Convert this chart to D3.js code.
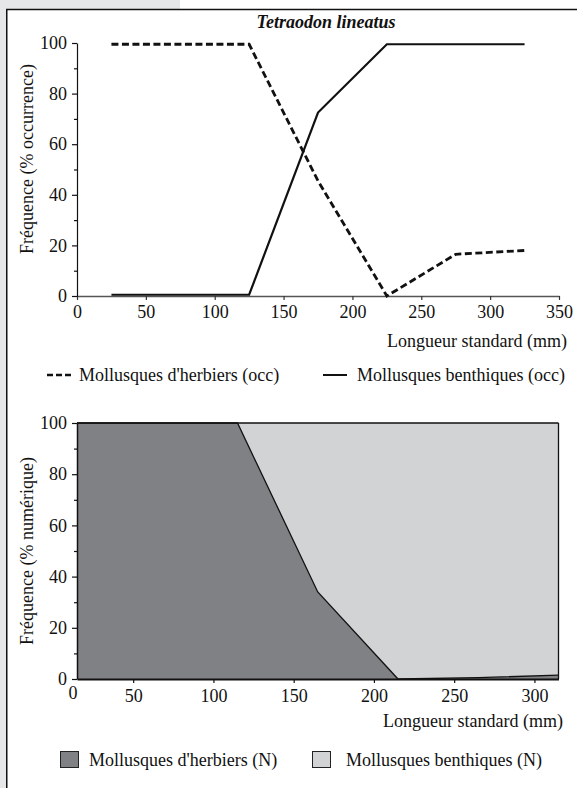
<!DOCTYPE html>
<html><head><meta charset="utf-8">
<script src="https://cdn.jsdelivr.net/npm/d3@7"></script>
<style>
html,body{margin:0;padding:0;background:#fff;}
svg{display:block;}
</style></head><body>
<script>
// ---- Data (top chart: occurrence) ----
const topTitle = "Tetraodon lineatus";
const topLengths = [25, 125, 175, 225, 275, 325];
const herbiersOcc = [99.5, 99.5, 45.5, 0, 16.5, 18];
const benthiquesOcc = [0.5, 0.5, 72.5, 99.5, 99.5, 99.5];
const topXTicks = [0, 50, 100, 150, 200, 250, 300, 350];
const yTicks = [0, 20, 40, 60, 80, 100];
const yMinorTicks = [10, 30, 50, 70, 90];

// ---- Data (bottom chart: numeric %) ----
const botLengths = [15, 65, 115, 165, 215, 265, 315];
const herbiersN = [100, 100, 100, 34, 0, 0.5, 1.5];
const benthiquesN = herbiersN.map(v => 100 - v);
const botXTicks = [50, 100, 150, 200, 250, 300];

const W = 577, H = 788;
const FONT = "'Liberation Serif', 'DejaVu Serif', serif";
const FS = 18;
const svg = d3.select("body").append("svg").attr("width", W).attr("height", H)
  .style("font-family", FONT);

function styleText(sel) {
  sel.style("font-family", FONT).style("font-size", FS + "px").attr("fill", "#111");
  return sel;
}

// background frame
svg.append("rect").attr("x",0).attr("y",0).attr("width",180).attr("height",9).attr("fill","#e6e7e9");
svg.append("rect").attr("x",0).attr("y",0).attr("width",6).attr("height",H).attr("fill","#e6e7e9");
svg.append("path").attr("d",`M6.75,${H} V9.5 H${W}`).attr("fill","none").attr("stroke","#111").attr("stroke-width",1.5);

// ================= TOP CHART =================
const xT = d3.scaleLinear().domain([0,350]).range([77,559]);
const yT = d3.scaleLinear().domain([0,100]).range([296,43]);
const gT = svg.append("g");

styleText(gT.append("text").attr("x",326).attr("y",28).attr("text-anchor","middle")
  .style("font-weight","bold").style("font-style","italic").text(topTitle));

// x axis (gray)
const xAxT = gT.append("g").attr("transform",`translate(0,${yT(0)})`)
  .call(d3.axisBottom(xT).tickValues(topXTicks).tickSize(4).tickPadding(5).tickSizeOuter(0));
xAxT.select(".domain").attr("stroke","#555").attr("stroke-width",1.5);
xAxT.selectAll(".tick line").attr("stroke","#333").attr("stroke-width",1.2);
styleText(xAxT.selectAll("text"));

// y axis
const yAxT = gT.append("g").attr("transform",`translate(${xT(0)},0)`)
  .call(d3.axisLeft(yT).tickValues(yTicks).tickSize(5).tickPadding(5).tickSizeOuter(0));
yAxT.select(".domain").attr("stroke","#111").attr("stroke-width",1.2);
yAxT.selectAll(".tick line").attr("stroke","#111").attr("stroke-width",1.2);
styleText(yAxT.selectAll("text"));
const yMinT = gT.append("g").attr("transform",`translate(${xT(0)},0)`)
  .call(d3.axisLeft(yT).tickValues(yMinorTicks).tickSize(3).tickFormat(""));
yMinT.select(".domain").remove();
yMinT.selectAll(".tick line").attr("stroke","#111").attr("stroke-width",1.2);

const lineT = d3.line().x(d=>xT(d[0])).y(d=>yT(d[1]));
gT.append("path").datum(d3.zip(topLengths, benthiquesOcc)).attr("d",lineT)
  .attr("fill","none").attr("stroke","#111").attr("stroke-width",2.2);
gT.append("path").datum(d3.zip(topLengths, herbiersOcc)).attr("d",lineT)
  .attr("fill","none").attr("stroke","#111").attr("stroke-width",2.8).attr("stroke-dasharray","7,3.5");

styleText(gT.append("text").attr("x",567).attr("y",347).attr("text-anchor","end")
  .text("Longueur standard (mm)"));
styleText(gT.append("text").attr("transform","translate(33,159) rotate(-90)").attr("text-anchor","middle")
  .text("Fréquence (% occurrence)"));

// legend top
gT.append("line").attr("x1",47).attr("x2",71).attr("y1",375).attr("y2",375)
  .attr("stroke","#111").attr("stroke-width",2.6).attr("stroke-dasharray","6,3");
styleText(gT.append("text").attr("x",79).attr("y",381).text("Mollusques d'herbiers (occ)"));
gT.append("line").attr("x1",323).attr("x2",347).attr("y1",375).attr("y2",375)
  .attr("stroke","#111").attr("stroke-width",2);
styleText(gT.append("text").attr("x",357).attr("y",381).text("Mollusques benthiques (occ)"));

// ================= BOTTOM CHART =================
const xB = d3.scaleLinear().domain([15,315]).range([77,558.5]);
const yB = d3.scaleLinear().domain([0,100]).range([679,423]);
const gB = svg.append("g");

const areaLight = d3.area().x(d=>xB(d[0])).y0(d=>yB(d[1])).y1(()=>yB(100));
const areaDark = d3.area().x(d=>xB(d[0])).y0(yB(0)).y1(d=>yB(d[1]));
const dataB = d3.zip(botLengths, herbiersN);
gB.append("path").datum(dataB).attr("d",areaLight).attr("fill","#d2d3d5");
gB.append("path").datum(dataB).attr("d",areaDark).attr("fill","#808184");
gB.append("path").datum(dataB).attr("d",d3.line().x(d=>xB(d[0])).y(d=>yB(d[1])))
  .attr("fill","none").attr("stroke","#111").attr("stroke-width",1.3);
gB.append("line").attr("x1",xB(15)).attr("x2",xB(315)).attr("y1",yB(100)).attr("y2",yB(100))
  .attr("stroke","#111").attr("stroke-width",1.3);
gB.append("line").attr("x1",xB(315)).attr("x2",xB(315)).attr("y1",yB(100)).attr("y2",yB(0))
  .attr("stroke","#111").attr("stroke-width",1.3);

const xAxB = gB.append("g").attr("transform",`translate(0,${yB(0)})`)
  .call(d3.axisBottom(xB).tickValues(botXTicks).tickSize(4).tickPadding(6).tickSizeOuter(0));
xAxB.select(".domain").attr("stroke","#111").attr("stroke-width",1.8);
xAxB.selectAll(".tick line").attr("stroke","#111").attr("stroke-width",1.2);
styleText(xAxB.selectAll("text"));
styleText(gB.append("text").attr("x",73).attr("y",yB(0)+20).attr("text-anchor","middle").text("0"));

const yAxB = gB.append("g").attr("transform",`translate(${xB(15)},0)`)
  .call(d3.axisLeft(yB).tickValues(yTicks).tickSize(5).tickPadding(5).tickSizeOuter(0));
yAxB.select(".domain").attr("stroke","#111").attr("stroke-width",1.5);
yAxB.selectAll(".tick line").attr("stroke","#111").attr("stroke-width",1.2);
styleText(yAxB.selectAll("text"));
const yMinB = gB.append("g").attr("transform",`translate(${xB(15)},0)`)
  .call(d3.axisLeft(yB).tickValues(yMinorTicks).tickSize(3).tickFormat(""));
yMinB.select(".domain").remove();
yMinB.selectAll(".tick line").attr("stroke","#111").attr("stroke-width",1.2);

styleText(gB.append("text").attr("x",563).attr("y",727).attr("text-anchor","end")
  .text("Longueur standard (mm)"));
styleText(gB.append("text").attr("transform","translate(33,551) rotate(-90)").attr("text-anchor","middle")
  .text("Fréquence (% numérique)"));

// legend bottom
gB.append("rect").attr("x",60.5).attr("y",751.5).attr("width",18).attr("height",16)
  .attr("fill","#808184").attr("stroke","#222").attr("stroke-width",1);
styleText(gB.append("text").attr("x",89).attr("y",766).text("Mollusques d'herbiers (N)"));
gB.append("rect").attr("x",312.5).attr("y",751.5).attr("width",18).attr("height",16)
  .attr("fill","#d2d3d5").attr("stroke","#222").attr("stroke-width",1);
styleText(gB.append("text").attr("x",346).attr("y",766).text("Mollusques benthiques (N)"));
</script>
</body></html>
